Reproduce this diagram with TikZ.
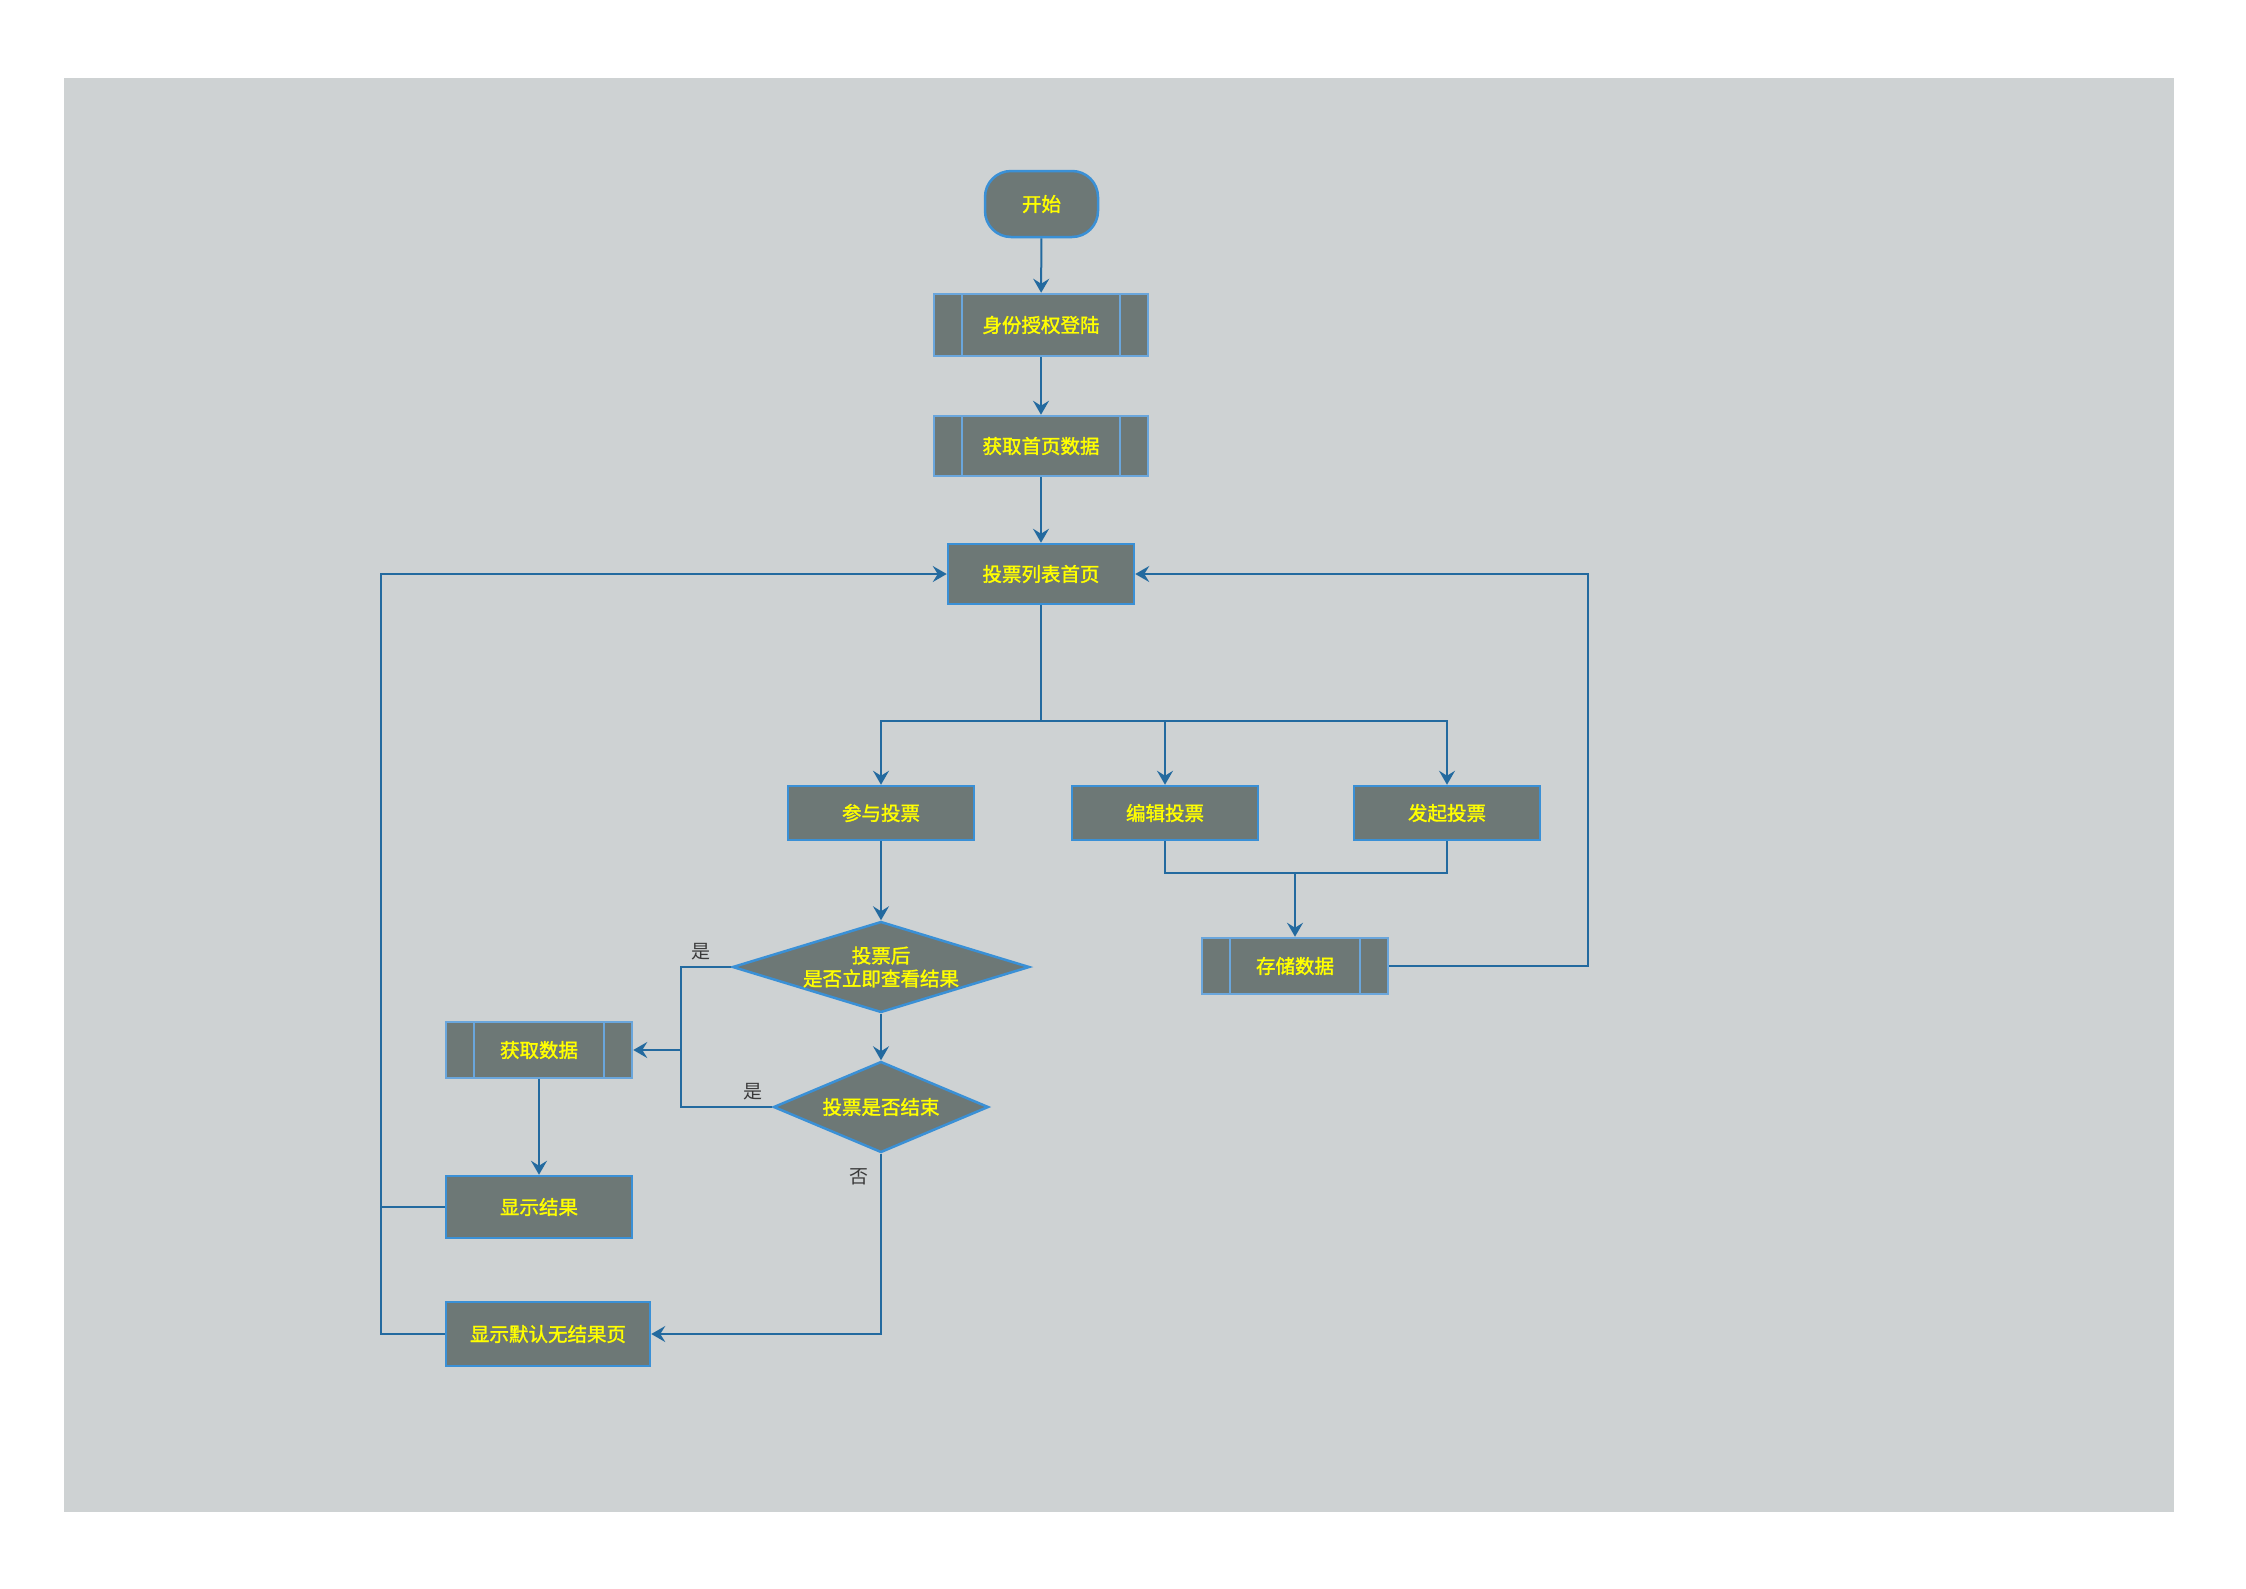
\documentclass[tikz,border=0pt]{standalone}
\usepackage{fontspec}
\newfontfamily\cjk{Noto Sans CJK SC}
\newfontfamily\cjkb{Noto Sans CJK SC}[FakeBold=1.6]
\usetikzlibrary{shapes.geometric,arrows.meta}
\definecolor{bgc}{HTML}{CED2D3}
\definecolor{boxc}{HTML}{6D7876}
\definecolor{edgec}{HTML}{3A90D6}
\definecolor{edgelt}{HTML}{6AA6DC}
\definecolor{linec}{HTML}{236A9F}
\definecolor{txt}{HTML}{FFFF00}
\definecolor{lbl}{HTML}{3A3A3A}
\begin{document}
\begin{tikzpicture}[x=1pt,y=-1pt,
 base/.style={fill=boxc, draw=edgec, line width=2.5pt, text=txt, font=\cjkb\fontsize{19.5}{23}\selectfont, inner sep=0pt, align=center},
 proc/.style={base, rectangle, minimum width=188pt, minimum height=60pt},
 sub/.style={base, draw=edgelt, rectangle, path picture={\draw[edgelt,line width=2.5pt] ([xshift=28pt]path picture bounding box.north west) -- ([xshift=28pt]path picture bounding box.south west) ([xshift=-28pt]path picture bounding box.north east) -- ([xshift=-28pt]path picture bounding box.south east);}},
 dia/.style={base, diamond},
 conn/.style={draw=linec, line width=2pt},
 arr/.style={conn, -{Stealth[length=14pt,width=16pt,inset=5pt]}},
 lab/.style={text=lbl, font=\cjk\fontsize{19}{23}\selectfont, inner sep=0pt}
]
\useasboundingbox (0,0) rectangle (2246,1588);
\fill[bgc] (64,78) rectangle (2174,1512);

\node[base, rounded corners=26pt, minimum width=113pt, minimum height=66pt] (start) at (1041.5,204) {开始};
\node[sub, minimum width=214pt, minimum height=62pt] (login) at (1041,325) {身份授权登陆};
\node[sub, minimum width=214pt, minimum height=60pt] (home) at (1041,446) {获取首页数据};
\node[proc, minimum width=186pt, minimum height=60pt] (list) at (1041,574) {投票列表首页};
\node[proc, minimum width=186pt, minimum height=54pt] (join) at (881,813) {参与投票};
\node[proc, minimum width=186pt, minimum height=54pt] (edit) at (1165,813) {编辑投票};
\node[proc, minimum width=186pt, minimum height=54pt] (launch) at (1447,813) {发起投票};
\node[sub, minimum width=186pt, minimum height=56pt] (store) at (1295,966) {存储数据};
\node[dia, minimum width=297pt, minimum height=91pt, aspect=3.26] (q1) at (881,967) {投票后\\是否立即查看结果};
\node[dia, minimum width=215pt, minimum height=91pt, aspect=2.36] (q2) at (881,1107) {投票是否结束};
\node[sub, minimum width=186pt, minimum height=56pt] (fetch) at (539,1050) {获取数据};
\node[proc, minimum width=186pt, minimum height=62pt] (show) at (539,1207) {显示结果};
\node[proc, minimum width=204pt, minimum height=64pt] (none) at (548,1334) {显示默认无结果页};

\draw[arr] (start) -- (login);
\draw[arr] (login) -- (home);
\draw[arr] (home) -- (list);
\coordinate (br) at (1041,721);
\draw[conn] (list.south) -- (br);
\draw[arr] (br) -| (join.north);
\draw[arr] (br) -| (launch.north);
\draw[arr] (edit.north |- br) -- (edit.north);
\coordinate (mg) at (1295,873);
\draw[conn] (edit.south) |- (mg);
\draw[conn] (launch.south) |- (mg);
\draw[arr] (mg) -- (store.north);
\coordinate (rt) at (1588,966);
\draw[arr] (store.east) -- (rt) |- (list.east);
\draw[arr] (join) -- (q1);
\draw[arr] (q1) -- (q2);
\coordinate (lj) at (681,1050);
\draw[conn] (q1.west) -| (lj);
\draw[conn] (q2.west) -| (lj);
\draw[arr] (lj) -- (fetch.east);
\draw[arr] (q2.south) |- (none.east);
\draw[arr] (fetch) -- (show);
\coordinate (ll) at (381,1334);
\draw[conn] (show.west) -- (show.west -| ll);
\draw[arr] (none.west) -- (ll) |- (list.west);

\node[lab] at (701,952) {是};
\node[lab] at (753,1092) {是};
\node[lab] at (859,1177) {否};
\end{tikzpicture}
\end{document}
